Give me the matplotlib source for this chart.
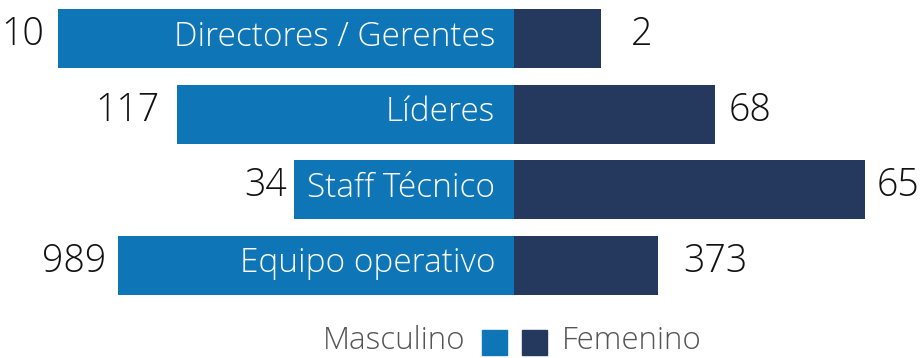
import matplotlib.pyplot as plt
from matplotlib.patches import Rectangle

# Datos
categorias = ['Directores / Gerentes', 'Líderes', 'Staff Técnico', 'Equipo operativo']
masculino = [10, 117, 34, 989]
femenino = [2, 68, 65, 373]
# largo dibujado de cada barra (escala libre del gráfico)
largo_masc = [456, 337, 220, 396]
largo_fem = [87, 201, 351, 144]

azul = '#0e76b6'
marino = '#25385e'
fuente = 'Open Sans'
peso = 'light'

# separación de las cifras respecto al extremo de cada barra
sep_masc = [14, 17, 7, 12]
sep_fem = [30, 14, 12, 25]

fig = plt.figure(figsize=(9.23, 3.58), dpi=100)
ax = fig.add_axes([0, 0, 1, 1])
ax.set_xlim(-514, 409)
ax.set_ylim(4.23, -0.51)
ax.set_axis_off()

y = list(range(len(categorias)))
ax.barh(y, [-v for v in largo_masc], height=0.78, color=azul)
ax.barh(y, largo_fem, height=0.78, color=marino)

for i, cat in enumerate(categorias):
    ax.text(-19, i - 0.02, cat, ha='right', va='center', color='white',
            fontsize=24, family=fuente, fontweight=peso)
    ax.text(-largo_masc[i] - sep_masc[i], i - 0.05, str(masculino[i]), ha='right',
            va='center', color='#111111', fontsize=27, family=fuente, fontweight=peso)
    ax.text(largo_fem[i] + sep_fem[i], i - 0.05, str(femenino[i]), ha='left',
            va='center', color='#111111', fontsize=27, family=fuente, fontweight=peso)

# Leyenda
ax.add_patch(Rectangle((-32, 3.86), 25, 0.331, color=azul))
ax.add_patch(Rectangle((8, 3.86), 25, 0.331, color=marino))
ax.text(-49, 4.0, 'Masculino', ha='right', va='center', color='#555555',
        fontsize=22.5, family=fuente, fontweight=peso)
ax.text(48, 4.0, 'Femenino', ha='left', va='center', color='#555555',
        fontsize=22.5, family=fuente, fontweight=peso)

fig.savefig('out.png', dpi=100)
